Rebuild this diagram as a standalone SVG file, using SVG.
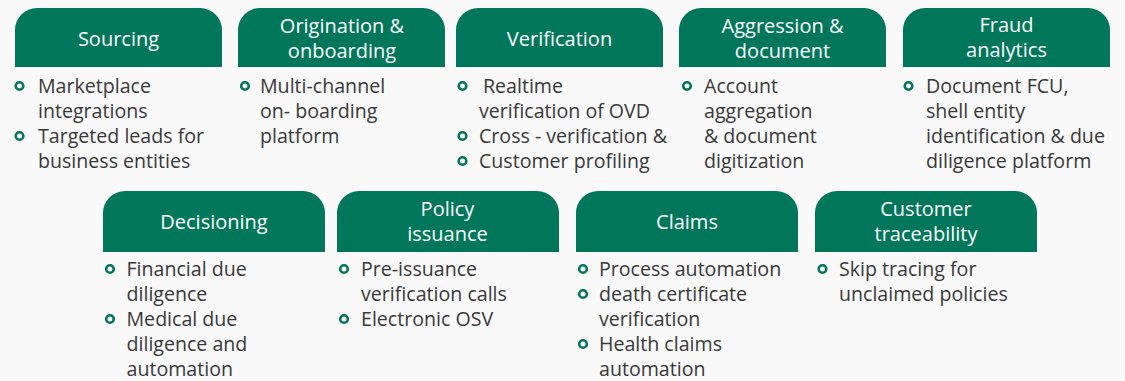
<svg xmlns="http://www.w3.org/2000/svg" width="1125" height="381" viewBox="0 0 1125 381">
<style>
.bg{fill:#f9f9f9}
.tab{fill:#00775a}
.tt{font-family:"Open Sans","Noto Sans",sans-serif;font-size:20px;fill:#ffffff;text-anchor:middle}
.bt{font-family:"Open Sans","Noto Sans",sans-serif;font-size:19.6px;fill:#383838}
.dot{fill:none;stroke:#00775a;stroke-width:2.6}
</style>
<defs>
<path id="tabTop" d="M0,59 V22 A22,22 0 0 1 22,0 H185 A22,22 0 0 1 207,22 V59 Z"/>
<path id="tabBot" d="M0,61 V22 A22,22 0 0 1 22,0 H200 A22,22 0 0 1 222,22 V61 Z"/>
</defs>
<rect class="bg" x="0" y="0" width="1125" height="381"/>
<g id="connectors"/>

<g id="sourcing">
<use href="#tabTop" class="tab" x="15" y="8"/>
<text class="tt" x="118.5" y="46">Sourcing</text>
<circle class="dot" cx="19.5" cy="86" r="3.8"/>
<text class="bt" x="38" y="93">Marketplace</text>
<text class="bt" x="38" y="118">integrations</text>
<circle class="dot" cx="19.5" cy="136" r="3.8"/>
<text class="bt" x="38" y="143">Targeted leads for</text>
<text class="bt" x="38" y="168">business entities</text>
</g>

<g id="origination">
<use href="#tabTop" class="tab" x="238" y="8"/>
<text class="tt" x="342" y="33">Origination &amp;</text>
<text class="tt" x="342" y="58">onboarding</text>
<circle class="dot" cx="245" cy="86" r="3.8"/>
<text class="bt" x="260" y="93">Multi-channel</text>
<text class="bt" x="260" y="118">on- boarding</text>
<text class="bt" x="260" y="143">platform</text>
</g>

<g id="verification">
<use href="#tabTop" class="tab" x="456" y="8"/>
<text class="tt" x="559.5" y="46">Verification</text>
<circle class="dot" cx="462.5" cy="86" r="3.8"/>
<text class="bt" x="483" y="93">Realtime</text>
<text class="bt" x="479" y="118">verification of OVD</text>
<circle class="dot" cx="462.5" cy="136" r="3.8"/>
<text class="bt" x="479" y="143">Cross - verification &amp;</text>
<circle class="dot" cx="462.5" cy="161" r="3.8"/>
<text class="bt" x="479" y="168">Customer profiling</text>
</g>

<g id="aggression">
<use href="#tabTop" class="tab" x="679" y="8"/>
<text class="tt" x="782.5" y="33">Aggression &amp;</text>
<text class="tt" x="782.5" y="58">document</text>
<circle class="dot" cx="687" cy="86" r="3.8"/>
<text class="bt" x="704" y="93">Account</text>
<text class="bt" x="704" y="118">aggregation</text>
<text class="bt" x="704" y="143">&amp; document</text>
<text class="bt" x="704" y="168">digitization</text>
</g>

<g id="fraud">
<use href="#tabTop" class="tab" x="903" y="8"/>
<text class="tt" x="1006.5" y="32">Fraud</text>
<text class="tt" x="1006.5" y="57">analytics</text>
<circle class="dot" cx="908.5" cy="86" r="3.8"/>
<text class="bt" x="926" y="93">Document FCU,</text>
<text class="bt" x="926" y="118">shell entity</text>
<text class="bt" x="926" y="143">identification &amp; due</text>
<text class="bt" x="926" y="168">diligence platform</text>
</g>

<g id="decisioning">
<use href="#tabBot" class="tab" x="103" y="191"/>
<text class="tt" x="214" y="229">Decisioning</text>
<circle class="dot" cx="110" cy="269" r="3.8"/>
<text class="bt" x="126.5" y="276">Financial due</text>
<text class="bt" x="126.5" y="301">diligence</text>
<circle class="dot" cx="110" cy="319" r="3.8"/>
<text class="bt" x="126.5" y="326">Medical due</text>
<text class="bt" x="126.5" y="351">diligence and</text>
<text class="bt" x="126.5" y="376">automation</text>
</g>

<g id="policy">
<use href="#tabBot" class="tab" x="337" y="191"/>
<text class="tt" x="447.5" y="216">Policy</text>
<text class="tt" x="447.5" y="241">issuance</text>
<circle class="dot" cx="344" cy="269" r="3.8"/>
<text class="bt" x="361" y="276">Pre-issuance</text>
<text class="bt" x="361" y="301">verification calls</text>
<circle class="dot" cx="344" cy="319" r="3.8"/>
<text class="bt" x="361" y="326">Electronic OSV</text>
</g>

<g id="claims">
<use href="#tabBot" class="tab" x="576" y="191"/>
<text class="tt" x="687" y="229">Claims</text>
<circle class="dot" cx="583" cy="269" r="3.8"/>
<text class="bt" x="599" y="276">Process automation</text>
<circle class="dot" cx="583" cy="294" r="3.8"/>
<text class="bt" x="599" y="301">death certificate</text>
<text class="bt" x="599" y="326">verification</text>
<circle class="dot" cx="583" cy="344" r="3.8"/>
<text class="bt" x="599" y="351">Health claims</text>
<text class="bt" x="599" y="376">automation</text>
</g>

<g id="customer">
<use href="#tabBot" class="tab" x="815" y="191"/>
<text class="tt" x="926" y="216">Customer</text>
<text class="tt" x="926" y="241">traceability</text>
<circle class="dot" cx="822.5" cy="269" r="3.8"/>
<text class="bt" x="839" y="276">Skip tracing for</text>
<text class="bt" x="839" y="301">unclaimed policies</text>
</g>
</svg>
